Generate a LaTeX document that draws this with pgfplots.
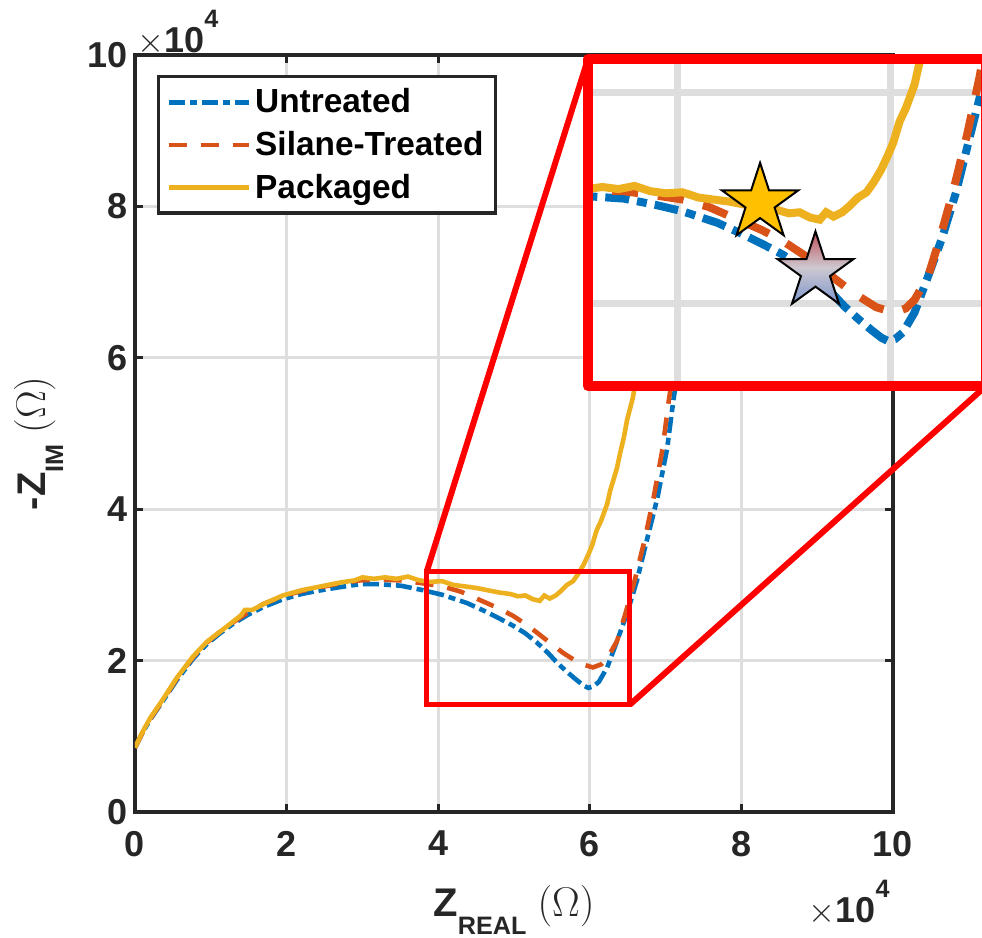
\documentclass[border=0pt]{standalone}
\usepackage{fontspec}
\setmainfont{Liberation Sans}
\usepackage{pgfplots}
\pgfplotsset{compat=1.18}
\usepackage{pgfplotstable}
\usetikzlibrary{shapes.geometric}

\definecolor{mblue}{RGB}{0,114,189}
\definecolor{morange}{RGB}{217,83,25}
\definecolor{myellow}{RGB}{237,177,32}
\definecolor{axgray}{RGB}{38,38,38}
\definecolor{gridgray}{RGB}{222,222,222}
\definecolor{stargold}{RGB}{255,192,0}
\definecolor{starred}{RGB}{192,80,90}
\definecolor{starmid}{RGB}{205,200,208}
\definecolor{starblue}{RGB}{125,150,205}

% Z in units of 1e4 Ohm
\pgfplotstableread{
x y
0.00 0.85
0.10 1.05
0.20 1.22
0.37 1.47
0.55 1.74
0.77 2.03
0.95 2.22
1.12 2.36
1.30 2.49
1.48 2.60
1.70 2.71
1.95 2.81
2.20 2.88
2.40 2.92
2.70 2.97
2.97 3.01
3.20 3.01
3.50 2.99
3.80 2.93
4.05 2.87
4.38 2.76
4.60 2.66
4.82 2.55
4.99 2.46
5.15 2.36
5.30 2.24
5.45 2.10
5.57 1.97
5.70 1.85
5.83 1.74
5.92 1.67
5.98 1.64
6.05 1.66
6.12 1.72
6.23 1.91
6.36 2.26
6.49 2.62
6.62 3.05
6.75 3.58
6.89 4.14
7.02 4.80
7.10 5.42
7.20 6.10
7.32 7.00
7.45 8.00
7.58 9.00
7.70 10.00
}\untreated

\pgfplotstableread{
x y
0.00 0.85
0.10 1.05
0.20 1.23
0.37 1.48
0.55 1.76
0.77 2.05
0.95 2.24
1.12 2.38
1.30 2.51
1.48 2.63
1.70 2.75
1.95 2.85
2.20 2.92
2.40 2.96
2.70 3.02
2.97 3.06
3.20 3.07
3.50 3.06
3.80 3.02
4.06 2.98
4.30 2.91
4.55 2.80
4.80 2.69
4.99 2.59
5.20 2.45
5.43 2.27
5.65 2.10
5.87 1.96
6.04 1.91
6.15 1.95
6.23 2.03
6.36 2.26
6.47 2.62
6.59 3.05
6.72 3.58
6.84 4.14
6.96 4.80
7.04 5.42
7.14 6.10
7.26 7.00
7.39 8.00
7.52 9.00
7.64 10.00
}\silane

\pgfplotstableread{
x y
0.00 0.85
0.10 1.06
0.20 1.24
0.37 1.49
0.55 1.77
0.77 2.06
0.95 2.25
1.12 2.38
1.30 2.52
1.40 2.60
1.45 2.67
1.55 2.67
1.70 2.75
1.95 2.86
2.20 2.93
2.40 2.97
2.70 3.03
2.90 3.06
3.00 3.10
3.15 3.08
3.30 3.10
3.45 3.08
3.60 3.11
3.75 3.06
3.90 3.04
4.05 3.05
4.20 3.00
4.35 2.98
4.50 2.96
4.65 2.93
4.80 2.90
4.95 2.88
5.05 2.85
5.15 2.86
5.25 2.81
5.34 2.79
5.40 2.86
5.47 2.82
5.55 2.86
5.62 2.92
5.70 3.00
5.78 3.05
5.85 3.15
5.92 3.27
5.98 3.40
6.03 3.52
6.09 3.72
6.15 3.85
6.23 4.07
6.27 4.25
6.31 4.38
6.36 4.55
6.40 4.74
6.45 4.95
6.49 5.17
6.57 5.48
6.65 6.00
6.75 6.80
6.88 7.80
7.00 8.80
7.12 10.00
}\packaged

\newcommand{\expo}{{\fontsize{18}{20}\selectfont$\times$\bfseries 10\raisebox{12.5pt}{\fontsize{12.6}{14}\selectfont 4}}}

\begin{document}
\begin{tikzpicture}
\begin{axis}[
    scale only axis,
    width=379pt, height=378.5pt,
    xmin=0, xmax=10, ymin=0, ymax=10,
    xtick={0,2,...,10}, ytick={0,2,...,10},
    scaled ticks=false,
    tick align=inside, tick pos=both,
    major tick length=4pt,
    every tick/.style={axgray, line width=1.6pt},
    axis line style={axgray, line width=1.6pt},
    grid=major,
    grid style={gridgray, line width=1.6pt},
    /pgf/number format/assume math mode=true,
    ticklabel style={font=\fontsize{18}{20}\selectfont\bfseries, text=axgray},
    xticklabel style={yshift=-6pt},
    xlabel={Z\raisebox{-9pt}{\fontsize{12.6}{14}\selectfont\bfseries REAL}\ $(\Omega)$},
    ylabel={-Z\raisebox{-9pt}{\fontsize{12.6}{14}\selectfont\bfseries IM}\ $(\Omega)$},
    label style={font=\fontsize{20}{24}\selectfont\bfseries, text=axgray, inner sep=0pt},
    xlabel style={at={(rel axis cs:0.5,-0.1387)}, anchor=base},
    ylabel style={at={(rel axis cs:-0.1187,0.487)}, anchor=base},
    legend style={at={(0,1)}, anchor=north west, xshift=11pt, yshift=-10pt,
        draw=axgray, line width=1.6pt, fill=white,
        font=\fontsize{16.7}{19}\selectfont\bfseries,
        inner xsep=4pt, inner ysep=4pt, row sep=3.7pt, cells={anchor=west}},
    legend image code/.code={\draw[#1] (0pt,0pt) -- (40pt,0pt);},
    clip mode=individual,
]
\addplot[mblue, line width=2.3pt, dash pattern=on 8pt off 2.5pt on 3.5pt off 2.5pt] table {\untreated};
\addlegendentry{Untreated}
\addplot[morange, line width=2.3pt, dash pattern=on 9pt off 7pt] table {\silane};
\addlegendentry{Silane-Treated}
\addplot[myellow, line width=2.3pt] table {\packaged};
\addlegendentry{Packaged}

\draw[red, line width=2.5pt] (axis cs:3.85,1.42) rectangle (axis cs:6.53,3.18);
\coordinate (rtl) at (axis cs:3.85,3.18);
\coordinate (rbr) at (axis cs:6.53,1.42);
\coordinate (itl) at (axis cs:5.976,9.947);
\coordinate (ibr) at (axis cs:11.226,5.627);
\coordinate (isw) at (axis cs:5.976,5.627);

\node[anchor=base west, inner sep=0pt, xshift=1pt, yshift=1pt, text=axgray] at (rel axis cs:0,1) {\expo};
\node[anchor=base east, inner sep=0pt, xshift=-1.5pt, yshift=-55.5pt, text=axgray] at (rel axis cs:1,0) {\expo};
\end{axis}

\draw[red, line width=3pt] (rtl) -- (itl);
\draw[red, line width=3pt] (rbr) -- (ibr);

\begin{axis}[
    at={(isw)}, anchor=south west,
    scale only axis,
    width=199pt, height=163.5pt,
    xmin=3.164, xmax=6.901, ymin=1.213, ymax=4.313,
    xtick={4,6}, ytick={2,4},
    xticklabels={}, yticklabels={},
    major tick length=0pt,
    tick style={draw=none},
    grid=major,
    grid style={gridgray, line width=3.5pt},
    axis line style={draw=none},
    axis background/.style={fill=white},
    clip mode=individual,
]
\addplot[mblue, line width=4pt, dash pattern=on 12pt off 4pt on 5pt off 4pt] table {\untreated};
\addplot[morange, line width=4pt, dash pattern=on 13pt off 10pt] table {\silane};
\addplot[myellow, line width=4pt] table {\packaged};

\addplot[draw=none, mark=none, nodes near coords={},
    every node near coord/.append style={anchor=center, star, star points=5,
        star point ratio=2.618, minimum size=40pt, inner sep=0pt,
        draw=black, line width=1pt, fill=stargold}]
    coordinates {(4.78,2.95)};
\addplot[draw=none, mark=none, nodes near coords={},
    every node near coord/.append style={anchor=center, star, star points=5,
        star point ratio=2.618, minimum size=40pt, inner sep=0pt,
        draw=black, line width=1pt, top color=starred, bottom color=starblue,
        middle color=starmid}]
    coordinates {(5.30,2.30)};

\draw[red, line width=5pt, line join=round] (rel axis cs:0,0) rectangle (rel axis cs:1,1);
\end{axis}

\pgfresetboundingbox
\path[use as bounding box] (-67.5pt,-63pt) rectangle (423.5pt,406pt);
\end{tikzpicture}
\end{document}
